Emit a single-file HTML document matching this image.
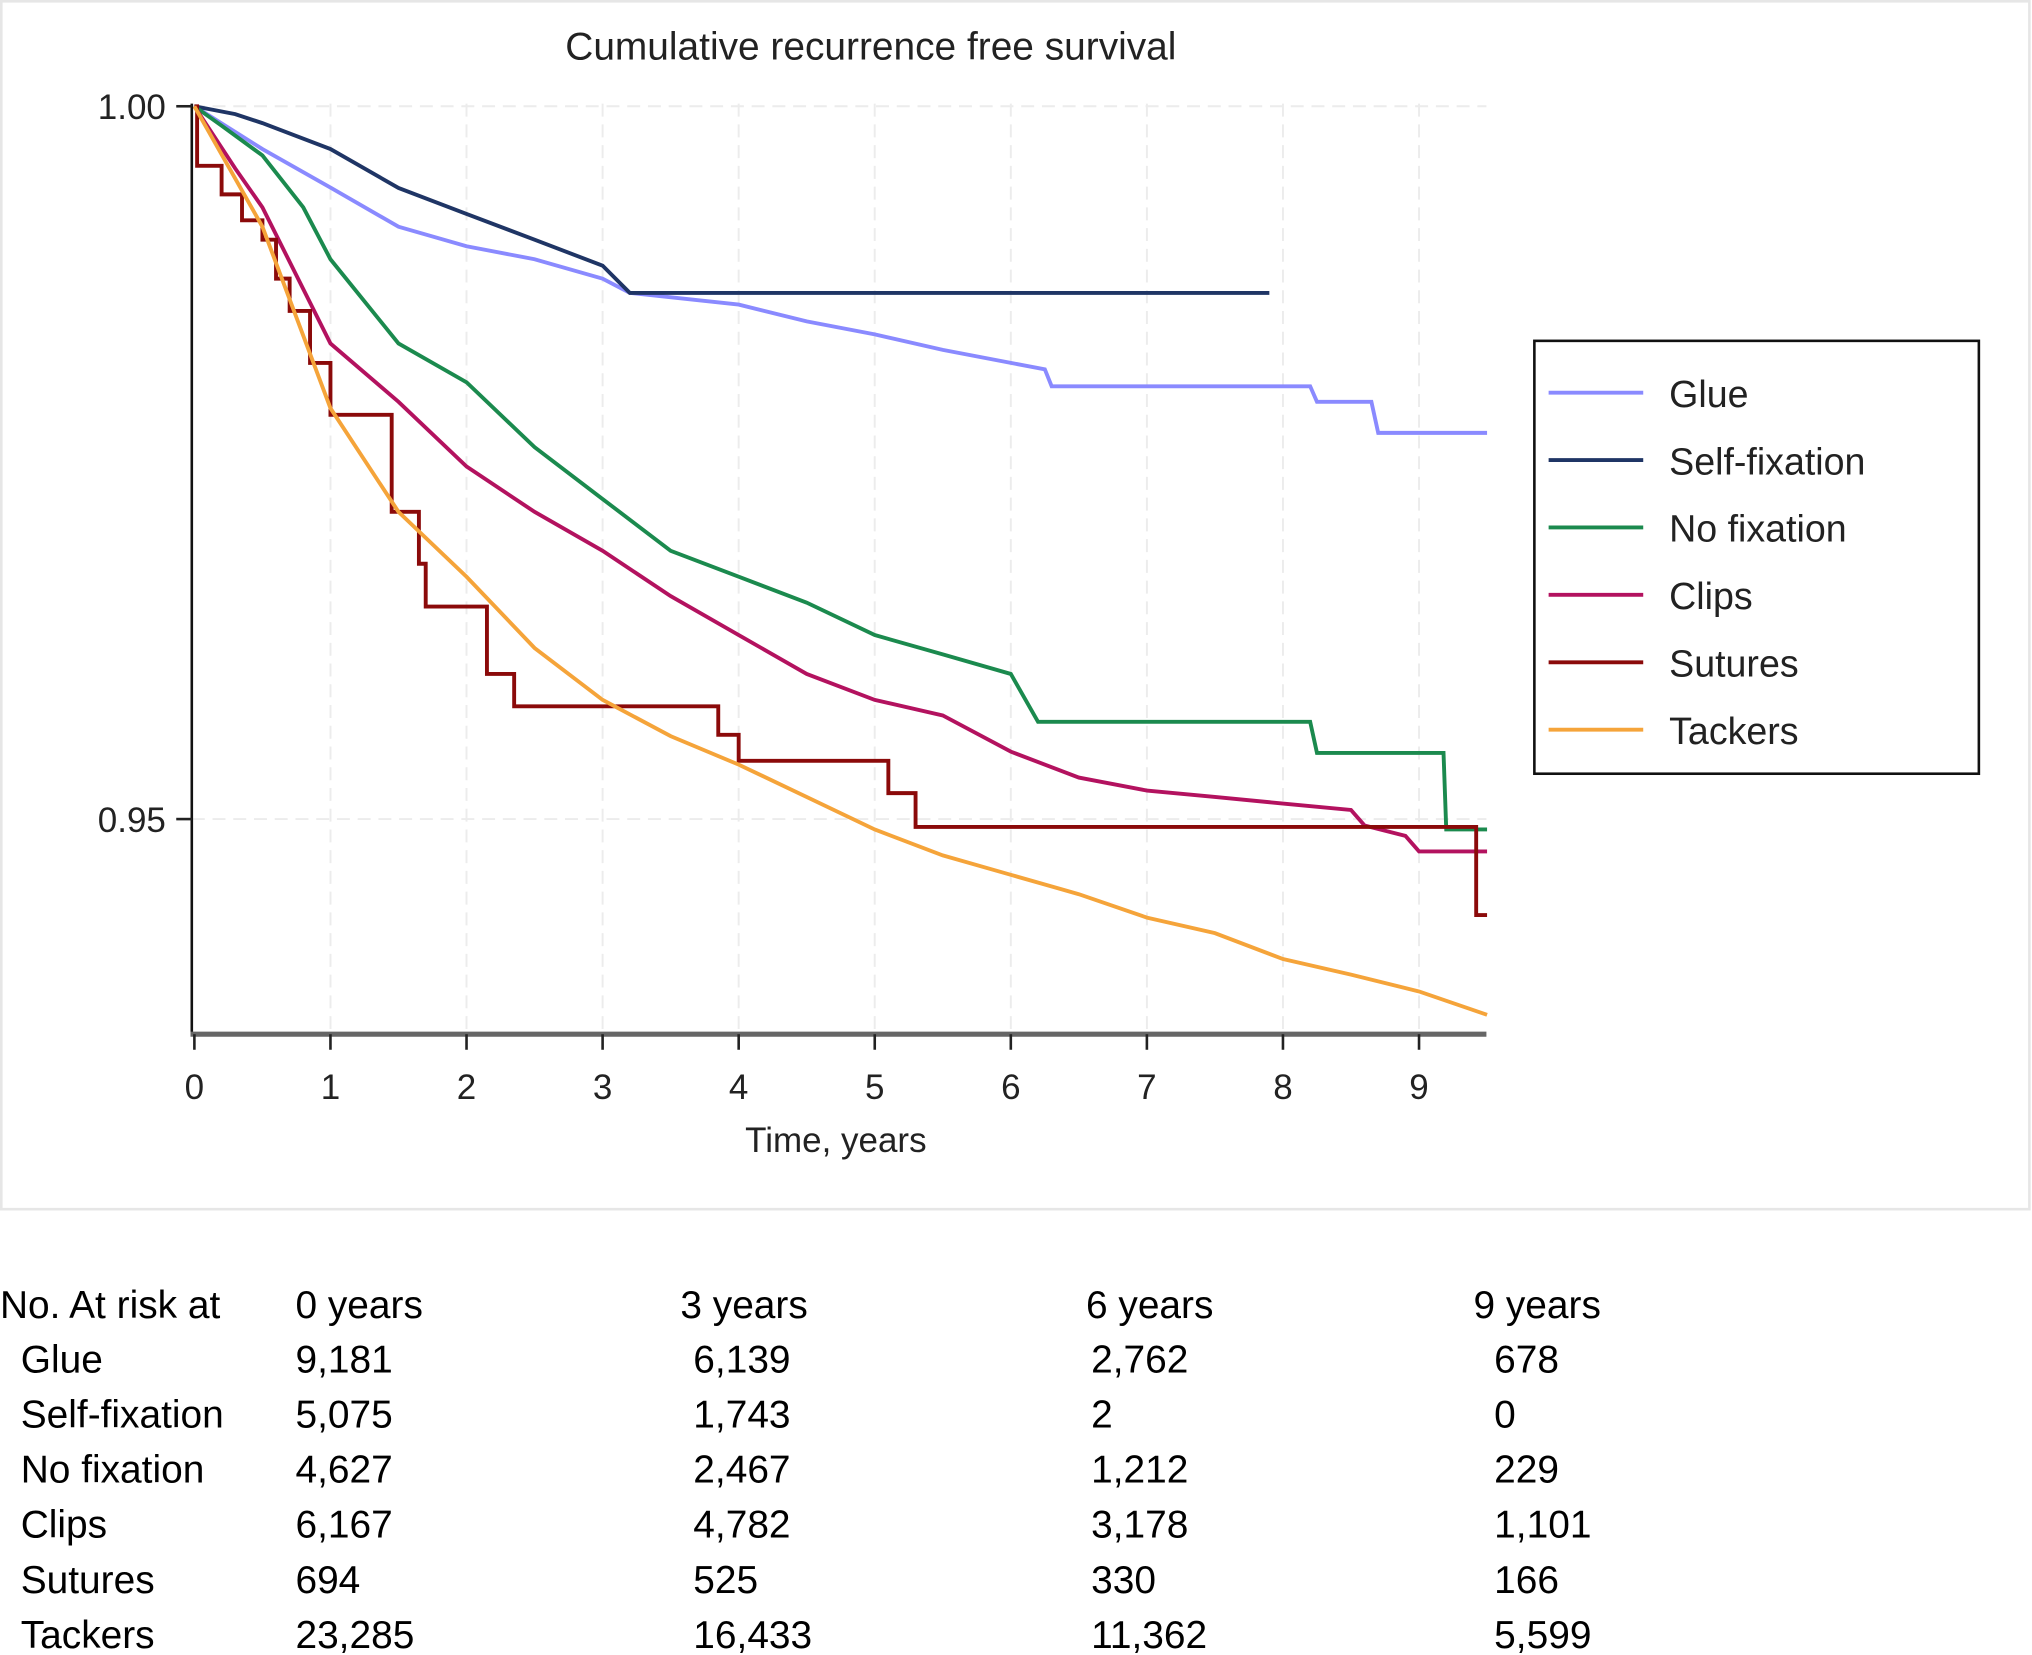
<!DOCTYPE html>
<html><head><meta charset="utf-8">
<style>
html,body{margin:0;padding:0;background:#fff;width:2032px;height:1655px;overflow:hidden}
svg{display:block}
.t{font-family:"Liberation Sans",sans-serif;fill:#222}
.tb{font-family:"Liberation Sans Narrow","Liberation Sans",sans-serif;fill:#000}
</style></head>
<body>
<svg id="chart" width="2032" height="1655" viewBox="0 0 1568 1277" preserveAspectRatio="none" xmlns="http://www.w3.org/2000/svg">
<rect x="1" y="1" width="1565" height="932" fill="#fff" stroke="#e6e6e6" stroke-width="2"/>
<text class="t" x="672" y="46" font-size="30" text-anchor="middle">Cumulative recurrence free survival</text>
<g id="grid"></g>
<g id="series"></g>
<g id="axes"></g>
<text class="t" x="645" y="889" font-size="27" text-anchor="middle">Time, years</text>
<g>
<rect x="1184" y="263" width="343" height="334" fill="#fff" stroke="#111" stroke-width="2"/>
<g id="legend-items"></g>
</g>
<g font-size="30" id="table"></g>
</svg>
<script>
const NS="http://www.w3.org/2000/svg";
const xTicks=[0,1,2,3,4,5,6,7,8,9];
const yTicks=[1.00,0.95];
const yTickLabels=["1.00","0.95"];
const seriesNames=["Glue","Self-fixation","No fixation","Clips","Sutures","Tackers"];
const seriesColors=["#8a8aff","#1f3565","#1b8a4e","#b3125f","#8b0a0a","#f5a43a"];
const glueT=[0,0.5,1,1.5,2,2.5,3,3.2,4,4.5,5,5.5,6,6.25,6.3,8.2,8.25,8.65,8.7,9.5];
const glueS=[1,0.997,0.9943,0.99155,0.99018,0.98927,0.98791,0.98691,0.98609,0.98491,0.984,0.98291,0.982,0.98155,0.98036,0.98036,0.97927,0.97927,0.97709,0.97709];
const selfT=[0,0.3,0.5,1,1.5,2,2.5,3,3.2,7.9];
const selfS=[1,0.99945,0.99882,0.997,0.99427,0.99245,0.99064,0.98882,0.98691,0.98691];
const noFixT=[0,0.2,0.5,0.8,1,1.5,2,2.5,3,3.5,4,4.5,5,5.5,6,6.2,8.2,8.25,9.18,9.2,9.5];
const noFixS=[1,0.99864,0.99655,0.99291,0.98927,0.98336,0.98064,0.97609,0.97245,0.96882,0.967,0.96518,0.96291,0.96155,0.96018,0.95682,0.95682,0.95464,0.95464,0.94927,0.94927];
const clipsT=[0,0.3,0.5,1,1.5,2,2.5,3,3.5,4,4.5,5,5.5,6,6.5,7,7.5,8,8.5,8.6,8.9,9.0,9.5];
const clipsS=[1,0.99564,0.99291,0.98336,0.97927,0.97473,0.97155,0.96882,0.96564,0.96291,0.96018,0.95836,0.95727,0.95473,0.95291,0.952,0.95155,0.95109,0.95064,0.94955,0.94882,0.94773,0.94773];
const suturesT=[0,0.02,0.2,0.35,0.5,0.6,0.7,0.85,1.0,1.45,1.65,1.7,2.15,2.35,3.85,4.0,5.1,5.3,9.42,9.5];
const suturesS=[1,0.99582,0.99382,0.992,0.99064,0.98791,0.98564,0.98200,0.97836,0.97155,0.96791,0.96491,0.96018,0.95791,0.95591,0.95409,0.95182,0.94945,0.94327,0.94327];
const tackT=[0,0.5,1,1.5,2,2.5,3,3.5,4,4.5,5,5.5,6,6.5,7,7.5,8,8.5,9,9.5];
const tackS=[1,0.99155,0.97882,0.97155,0.967,0.962,0.95836,0.95582,0.95382,0.95155,0.94927,0.94745,0.94609,0.94473,0.94309,0.942,0.94018,0.93909,0.93791,0.93627];
const tableHeader=["No. At risk at","0 years","3 years","6 years","9 years"];
const tableRows=[["Glue","9,181","6,139","2,762","678"],["Self-fixation","5,075","1,743","2","0"],["No fixation","4,627","2,467","1,212","229"],["Clips","6,167","4,782","3,178","1,101"],["Sutures","694","525","330","166"],["Tackers","23,285","16,433","11,362","5,599"]];

const X0=150,PX=105,Y1=82,PY=11000;
function xs(t){return X0+t*PX;}
function ys(s){return Y1+(1-s)*PY;}
function mk(tag,attrs,parent){const e=document.createElementNS(NS,tag);for(const k in attrs)e.setAttribute(k,attrs[k]);parent.appendChild(e);return e;}

const grid=document.getElementById('grid');
xTicks.forEach(t=>{if(t===0)return;const l=mk('line',{x1:xs(t),x2:xs(t),y1:80,y2:798,stroke:'#ececec','stroke-width':1.5,'stroke-dasharray':'10,6'},grid);

});
yTicks.forEach(v=>{const l=mk('line',{x1:148,x2:1147,y1:ys(v),y2:ys(v),stroke:'#ececec','stroke-width':1.5,'stroke-dasharray':'10,6'},grid);

});

const axes=document.getElementById('axes');
const ya=mk('line',{x1:148,x2:148,y1:80,y2:798,stroke:'#111','stroke-width':2},axes);


const xa=mk('line',{x1:147,x2:1147,y1:798,y2:798,stroke:'#666','stroke-width':4},axes);


xTicks.forEach(t=>{const tk=mk('line',{x1:xs(t),x2:xs(t),y1:798,y2:810,stroke:'#222','stroke-width':2},axes);


const lb=mk('text',{x:xs(t),y:848,'font-size':27,'text-anchor':'middle',class:'t'},axes);lb.textContent=String(t);

});
yTicks.forEach((v,i)=>{const tk=mk('line',{x1:136,x2:148,y1:ys(v),y2:ys(v),stroke:'#222','stroke-width':2},axes);


const lb=mk('text',{x:128,y:ys(v)+10,'font-size':27,'text-anchor':'end',class:'t'},axes);lb.textContent=yTickLabels[i];

});

const data=[[glueT,glueS,false],[selfT,selfS,false],[noFixT,noFixS,false],[clipsT,clipsS,false],[suturesT,suturesS,true],[tackT,tackS,false]];
const sg=document.getElementById('series');
data.forEach((d,i)=>{const [T,S,step]=d;let p='M'+xs(T[0])+','+ys(S[0]);
for(let k=1;k<T.length;k++){if(step){p+=' H'+xs(T[k])+' V'+ys(S[k]);}else{p+=' L'+xs(T[k])+','+ys(S[k]);}}
const path=mk('path',{d:p,fill:'none',stroke:seriesColors[i],'stroke-width':3,'stroke-linejoin':'miter'},sg);

});

const li=document.getElementById('legend-items');
seriesNames.forEach((n,i)=>{const y=303+i*52;
const l=mk('line',{x1:1195,x2:1268,y1:y,y2:y,stroke:seriesColors[i],'stroke-width':3},li);


const t=mk('text',{x:1288,y:y+11,'font-size':29,class:'t'},li);t.textContent=n;

});

const tb=document.getElementById('table');
const colX=[0,228,525,838,1137];
const rowColX=[16,228,535,842,1153];
tableHeader.forEach((h,i)=>{const t=mk('text',{x:colX[i],y:1017,class:'tb'},tb);t.textContent=h;

});
tableRows.forEach((r,ri)=>{r.forEach((c,ci)=>{const t=mk('text',{x:rowColX[ci],y:1059+ri*42.5,class:'tb'},tb);t.textContent=c;

});});
</script>
</body></html>
